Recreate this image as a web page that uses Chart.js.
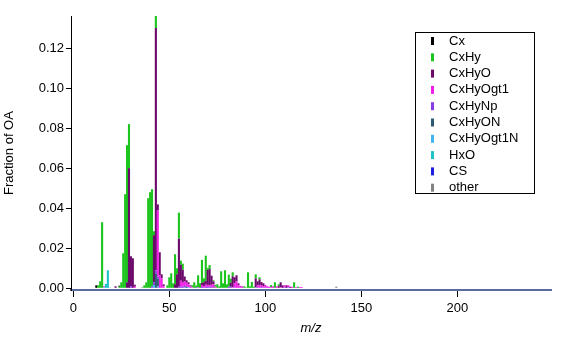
<!DOCTYPE html>
<html>
<head>
<meta charset="utf-8">
<script src="https://cdn.jsdelivr.net/npm/chart.js@4.4.0/dist/chart.umd.min.js"></script>
<style>
  html, body { margin: 0; padding: 0; background: #fff; }
  #wrap { width: 577px; height: 340px; }
</style>
</head>
<body>
<div id="wrap"><canvas id="spectrum" width="577" height="340"></canvas></div>
<script>
// ion families, in legend order (top of each stack first)
const families = ['Cx', 'CxHy', 'CxHyO', 'CxHyOgt1', 'CxHyNp', 'CxHyON', 'CxHyOgt1N', 'HxO', 'CS', 'other'];
const familyColors = ['#000000', '#1ec41e', '#6b0a6b', '#f01ee6', '#8c3ce6', '#2d5a73', '#44b4f0', '#1ec3c8', '#1e1ee0', '#828282'];

// [m/z, fraction of OA] per family
const Cx = [[12, 0.0015], [24, 0.0005], [36, 0.0004]];
const CxHy = [[13, 0.0015], [14, 0.0035], [15, 0.033], [24, 0.0008], [25, 0.003], [26, 0.0175], [27, 0.047],
  [28, 0.0685], [29, 0.022], [37, 0.0015], [38, 0.003], [39, 0.045], [40, 0.048], [41, 0.0485], [42, 0.002],
  [43, 0.006], [49, 0.0015], [50, 0.0055], [51, 0.0075], [52, 0.0025], [53, 0.015], [54, 0.003], [55, 0.013],
  [56, 0.002], [57, 0.003], [62, 0.001], [63, 0.003], [64, 0.001], [65, 0.006], [66, 0.0025], [67, 0.0115],
  [68, 0.002], [69, 0.0125], [70, 0.001], [71, 0.002], [73, 0.0005], [74, 0.001], [75, 0.002], [76, 0.001],
  [77, 0.0085], [78, 0.0025], [79, 0.009], [80, 0.002], [81, 0.006], [82, 0.002], [83, 0.002], [89, 0.001],
  [90, 0.0005], [91, 0.008], [92, 0.001], [93, 0.0032], [94, 0.0008], [95, 0.002], [97, 0.001], [103, 0.001],
  [105, 0.003], [107, 0.001], [115, 0.003], [117, 0.0008]];
const CxHyO = [[22, 0.001], [28, 0.003], [29, 0.060], [30, 0.015], [31, 0.015], [32, 0.001], [42, 0.0235],
  [43, 0.121], [44, 0.003], [45, 0.0115], [46, 0.002], [47, 0.001], [53, 0.002], [54, 0.007], [55, 0.024],
  [56, 0.008], [57, 0.0065], [58, 0.0025], [59, 0.0012], [60, 0.001], [61, 0.0005], [67, 0.001], [68, 0.002],
  [69, 0.002], [70, 0.0075], [71, 0.008], [72, 0.0045], [73, 0.0015], [82, 0.002], [83, 0.0055], [84, 0.003],
  [85, 0.003], [86, 0.001], [95, 0.0045], [96, 0.002], [97, 0.003], [98, 0.0015], [99, 0.0015], [107, 0.001],
  [108, 0.0025], [109, 0.0015], [111, 0.0015], [113, 0.0008]];
const CxHyOgt1 = [[16, 0.0005], [32, 0.0008], [44, 0.033], [45, 0.0065], [46, 0.005], [47, 0.001], [56, 0.003],
  [57, 0.002], [58, 0.002], [59, 0.002], [60, 0.0015], [61, 0.001], [62, 0.0005], [65, 0.0005], [67, 0.001],
  [68, 0.001], [69, 0.001], [70, 0.001], [71, 0.0008], [72, 0.0012], [73, 0.0015], [74, 0.0008], [83, 0.0005],
  [84, 0.002], [85, 0.0035], [86, 0.0015], [87, 0.0012], [88, 0.001], [96, 0.001], [97, 0.0015], [98, 0.001],
  [99, 0.001], [100, 0.0012], [101, 0.001], [102, 0.0008], [103, 0.0006], [104, 0.001], [106, 0.001],
  [108, 0.0005], [110, 0.001], [112, 0.001], [114, 0.0008], [116, 0.0006], [118, 0.0006], [119, 0.0006]];
const CxHyNp = [[30, 0.001], [41, 0.001], [42, 0.0015], [43, 0.0015], [44, 0.001], [55, 0.0008], [56, 0.0008],
  [57, 0.0008], [58, 0.001], [67, 0.0007], [69, 0.0008], [70, 0.0007], [71, 0.0008], [72, 0.0006], [81, 0.0008],
  [82, 0.0008], [84, 0.0005], [95, 0.0005], [96, 0.0005], [98, 0.0006], [100, 0.0005], [110, 0.0005], [112, 0.0005]];
const CxHyON = [[43, 0.0075], [44, 0.004], [59, 0.0008], [73, 0.0005]];
const CxHyOgt1N = [[42, 0.0015], [44, 0.0005], [58, 0.0004], [60, 0.0005]];
const HxO = [[16, 0.0005], [17, 0.0022], [18, 0.009], [19, 0.0004]];
const CS = [[44, 0.0004], [64, 0.0004]];
const other = [[137, 0.0008]];

const familyData = [Cx, CxHy, CxHyO, CxHyOgt1, CxHyNp, CxHyON, CxHyOgt1N, HxO, CS, other];

const xTicks = [0, 50, 100, 150, 200];
const yTicks = [0, 0.02, 0.04, 0.06, 0.08, 0.10, 0.12];

const font = '"Liberation Sans", Arial, sans-serif';

// bottom of the stack comes first in Chart.js, so walk the families backwards
const datasets = families.map((name, i) => ({
  label: name,
  data: familyData[i].map(([mz, v]) => ({ x: mz, y: v })),
  backgroundColor: familyColors[i],
  borderWidth: 0,
  barPercentage: 1.1,
  categoryPercentage: 1
})).reverse();

// boxed legend in the upper right
const legendBox = {
  id: 'legendBox',
  afterDraw(chart) {
    const ctx = chart.ctx;
    ctx.save();
    ctx.strokeStyle = '#000';
    ctx.lineWidth = 1;
    ctx.strokeRect(415.5, 32.5, 119, 161);
    ctx.font = '13px ' + font;
    ctx.textBaseline = 'middle';
    families.forEach((name, i) => {
      const y = 41 + i * 16.3;
      ctx.fillStyle = familyColors[i];
      ctx.fillRect(431, y - 4, 3, 8);
      ctx.fillStyle = '#000';
      ctx.fillText(name, 449, y);
    });
    ctx.restore();
  }
};

new Chart(document.getElementById('spectrum'), {
  type: 'bar',
  data: { datasets },
  plugins: [legendBox],
  options: {
    responsive: false,
    animation: false,
    devicePixelRatio: 1,
    layout: { padding: { top: 16, right: 26, left: 0, bottom: 0 } },
    plugins: { legend: { display: false }, tooltip: { enabled: false } },
    scales: {
      x: {
        type: 'linear',
        stacked: true,
        offset: false,
        min: -1.2,
        max: 248.8,
        afterBuildTicks: s => { s.ticks = xTicks.map(v => ({ value: v })); },
        afterFit: s => { s.height = 50; },
        grid: { offset: false, drawOnChartArea: false, drawTicks: true, tickLength: 7, color: '#000' },
        border: { display: true, color: '#5b6c9e', width: 2 },
        ticks: { color: '#000', font: { family: font, size: 13 }, padding: 4, maxRotation: 0 },
        title: { display: true, text: 'm/z', color: '#000', font: { family: font, size: 13, style: 'italic' }, padding: { top: 0, bottom: 4 } }
      },
      y: {
        stacked: true,
        min: -0.00085,
        max: 0.136,
        afterBuildTicks: s => { s.ticks = yTicks.map(v => ({ value: v })); },
        afterFit: s => { s.width = 71; },
        grid: { drawOnChartArea: false, drawTicks: true, tickLength: 5, color: '#000' },
        border: { display: true, color: '#000', width: 1 },
        ticks: { color: '#000', font: { family: font, size: 13 }, padding: 2, callback: v => v.toFixed(2) },
        title: { display: true, text: 'Fraction of OA', color: '#000', font: { family: font, size: 13 }, padding: { top: 2, bottom: 2 } }
      }
    }
  }
});
</script>
</body>
</html>
